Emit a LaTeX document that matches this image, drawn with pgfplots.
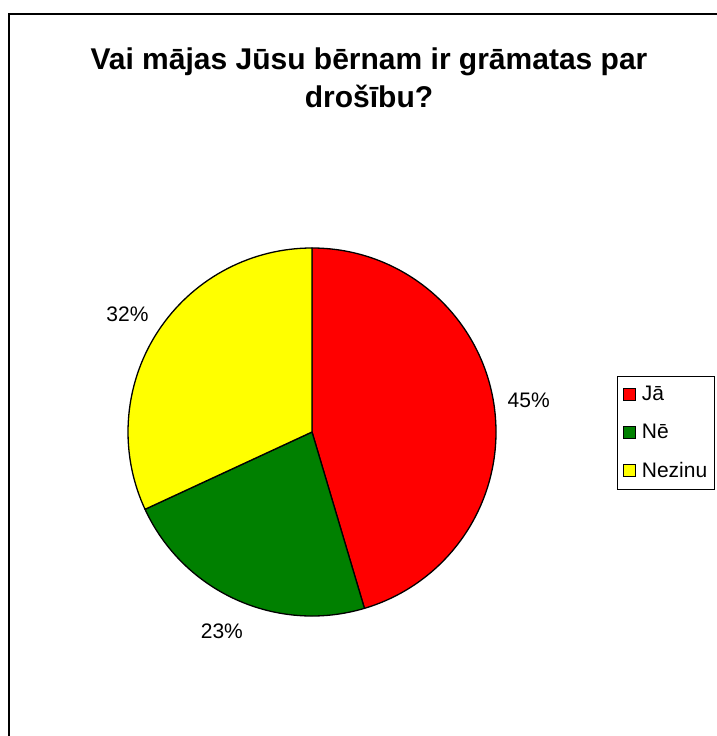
\documentclass[border=0pt]{standalone}
\usepackage{fontspec}
\setmainfont{Liberation Sans}
\usepackage{pgfplots}
\usepackage{pgfplotstable}
\pgfplotsset{compat=1.18}

\definecolor{pieRed}{RGB}{255,0,0}
\definecolor{pieGreen}{RGB}{0,128,0}
\definecolor{pieYellow}{RGB}{255,255,0}

% share of answers, percent (clockwise from 12 o'clock)
\pgfplotstableread{
label   value  color
Jā      45.4   pieRed
Nē      22.7   pieGreen
Nezinu  31.9   pieYellow
}\pietable

\newcommand\labelfont{\fontsize{21}{25}\selectfont}

\begin{document}
\begin{tikzpicture}
\begin{axis}[
    scale only axis,
    width=716pt, height=736pt,
    xmin=0, xmax=716, ymin=0, ymax=736,
    hide axis, clip=false,
    legend image code/.code={%
        \path[draw=none,fill=none] (0pt,0pt) -- (17pt,0pt);
        \draw[#1,draw=black,line width=0.8pt] (0pt,-6pt) rectangle (12pt,6pt);},
    legend style={at={(axis cs:617,360)}, anchor=north west, draw=black, line width=1pt,
        font=\labelfont, row sep=18pt, inner xsep=5pt, inner ysep=8pt},
    legend cell align=left,
]
\pgfplotstablegetrowsof{\pietable}
\pgfmathtruncatemacro\lastrow{\pgfplotsretval-1}
\def\startangle{90}
\pgfplotsforeachungrouped \i in {0,...,\lastrow}{%
  \pgfplotstablegetelem{\i}{value}\of\pietable \let\val\pgfplotsretval
  \pgfplotstablegetelem{\i}{color}\of\pietable \let\col\pgfplotsretval
  \pgfmathsetmacro\endangle{\startangle-3.6*\val}
  \pgfmathsetmacro\midangle{(\startangle+\endangle)/2}
  \pgfmathtruncatemacro\pct{round(\val)}
  \edef\slice{%
    \noexpand\filldraw[fill=\col, draw=black, line width=1.3pt, line join=round]
      (axis cs:312,304) -- ++(\startangle:184pt)
      arc[start angle=\startangle, end angle=\endangle, radius=184pt] -- cycle;
    \noexpand\node[anchor=center, inner sep=1pt, font=\noexpand\labelfont]
      at ([shift={(\midangle:219pt)}]axis cs:312,304) {\pct\noexpand\%};}
  \slice
  \let\startangle\endangle
}
\addlegendimage{fill=pieRed}\addlegendentry{Jā}
\addlegendimage{fill=pieGreen}\addlegendentry{Nē}
\addlegendimage{fill=pieYellow}\addlegendentry{Nezinu}

\node[align=center, font=\fontsize{30}{38}\selectfont\bfseries]
  at (axis cs:369,658) {Vai mājas Jūsu bērnam ir grāmatas par\\drošību?};
\draw[line width=2pt] (axis cs:9,722) rectangle (axis cs:740,-20);
\end{axis}
\pgfresetboundingbox
\useasboundingbox (0,0) rectangle (716pt,736pt);
\end{tikzpicture}
\end{document}
